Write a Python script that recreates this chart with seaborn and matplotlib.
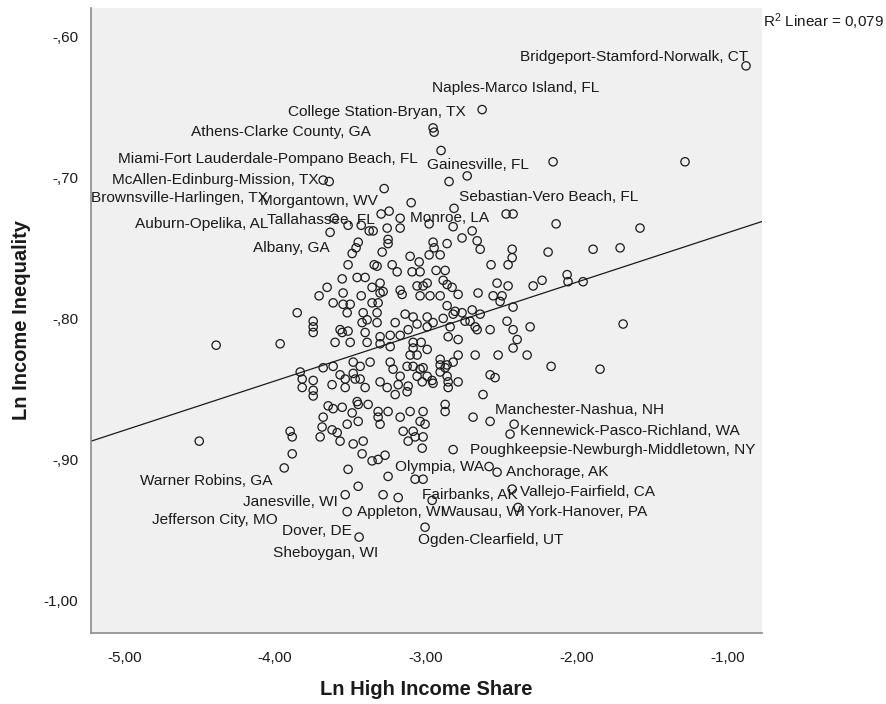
import matplotlib
matplotlib.use("Agg")
import matplotlib.pyplot as plt
import seaborn as sns
import numpy as np
import pandas as pd
from matplotlib.ticker import FuncFormatter, FixedLocator

# ---------------- data ----------------
x_share = [
    -2.901, -2.728, -2.848, -3.682, -3.642, -3.278, -3.099, -2.815, -2.470, -2.424,
    -3.298, -3.245, -3.172, -3.609, -3.517, -3.430, -3.377, -3.351, -3.258, -3.172,
    -3.636, -2.980, -2.821, -2.695, -2.762, -2.662, -2.642, -2.430, -2.430, -2.457,
    -2.570, -3.252, -3.252, -3.291, -3.450, -3.464, -3.490, -2.954, -2.861, -2.947,
    -2.980, -2.907, -3.517, -3.344, -3.325, -3.225, -3.192, -3.106, -3.046, -3.093,
    -3.040, -2.934, -2.874, -2.887, -3.556, -3.457, -3.404, -3.656, -3.709, -3.616,
    -3.550, -3.550, -3.503, -3.430, -3.358, -3.305, -3.305, -3.358, -3.318, -3.285,
    -3.172, -3.159, -3.060, -3.020, -2.993, -3.040, -2.974, -2.907, -2.861, -2.828,
    -2.788, -2.656, -2.530, -2.457, -2.556, -2.497, -2.510, -2.424, -2.291, -2.232,
    -3.854, -3.748, -3.748, -3.748, -3.523, -3.417, -3.391, -3.570, -3.517, -3.603,
    -3.503, -3.424, -3.325, -3.325, -3.305, -3.238, -3.205, -3.139, -3.119, -3.086,
    -3.060, -3.086, -2.993, -2.993, -2.954, -2.887, -2.821, -2.841, -2.762, -2.695,
    -2.742, -2.709, -2.642, -2.576, -2.464, -2.397, -2.311,
    -2.192, -1.894, -2.861, -2.808, -2.675, -2.854, -2.788, -2.424, -2.331, -2.523,
    -2.675, -2.788, -2.907, -2.861, -2.821, -2.861, -2.854, -2.788, -2.576, -2.543,
    -2.623, -2.172, -1.848, -1.695, -2.874, -2.874, -2.689, -2.576, -2.417, -2.444,
    -2.821,
    -3.556, -3.404, -3.391, -3.305, -3.238, -3.172, -3.033, -3.086, -2.993, -3.106,
    -3.060, -2.662, -2.424, -2.907, -3.834, -3.821, -3.821, -3.748, -3.748, -3.748,
    -3.682, -3.616, -3.570, -3.536, -3.623, -3.536, -3.483, -3.470, -3.437, -3.371,
    -3.404, -3.437, -3.483, -3.305, -3.258, -3.238, -3.219, -3.172, -3.185, -3.126,
    -3.086, -3.119, -3.126, -3.205, -3.040, -3.020, -3.060, -2.993, -3.026, -2.960,
    -2.954, -2.907, -2.874, -2.854, -3.649, -3.616, -3.556, -3.457, -3.450, -3.384,
    -3.318, -3.252, -3.490, -3.682, -3.689, -3.623, -3.589, -3.702, -3.570, -3.523,
    -3.450, -3.318, -3.305, -3.172, -3.106, -3.020, -3.040, -3.007, -3.152, -3.086,
    -3.073, -3.119, -3.020, -3.026, -3.483, -3.417, -3.424, -3.517, -3.358, -3.318,
    -3.272, -3.252, -3.073, -3.020, -3.450, -3.536, -3.285, -3.185, -3.523, -3.007,
    -2.583, -2.530, -3.887, -3.940, -3.901, -3.887, -3.967,
    -4.503, -3.444,
    -0.881, -2.629, -2.954, -2.947, -2.159, -2.139, -1.715, -1.583, -1.285,
    -2.066, -2.060, -1.960, -2.430, -2.391, -2.960, -4.391,
]
y_ineq = [
    -0.681, -0.699, -0.703, -0.702, -0.703, -0.708, -0.718, -0.722, -0.726, -0.726,
    -0.726, -0.724, -0.729, -0.729, -0.734, -0.734, -0.738, -0.738, -0.736, -0.736,
    -0.739, -0.733, -0.735, -0.738, -0.743, -0.745, -0.751, -0.751, -0.757, -0.762,
    -0.762, -0.744, -0.747, -0.753, -0.746, -0.750, -0.754, -0.746, -0.747, -0.750,
    -0.755, -0.755, -0.762, -0.762, -0.763, -0.762, -0.767, -0.756, -0.760, -0.767,
    -0.767, -0.766, -0.766, -0.773, -0.772, -0.771, -0.771, -0.778, -0.784, -0.789,
    -0.782, -0.790, -0.790, -0.784, -0.778, -0.775, -0.782, -0.789, -0.789, -0.781,
    -0.780, -0.783, -0.777, -0.777, -0.775, -0.784, -0.784, -0.784, -0.776, -0.778,
    -0.783, -0.782, -0.775, -0.777, -0.784, -0.784, -0.788, -0.792, -0.777, -0.773,
    -0.796, -0.802, -0.806, -0.810, -0.796, -0.796, -0.801, -0.808, -0.809, -0.817,
    -0.817, -0.803, -0.803, -0.796, -0.813, -0.820, -0.803, -0.797, -0.808, -0.799,
    -0.804, -0.817, -0.799, -0.806, -0.803, -0.800, -0.797, -0.806, -0.796, -0.794,
    -0.802, -0.802, -0.797, -0.808, -0.802, -0.815, -0.806,
    -0.753, -0.751, -0.791, -0.795, -0.806, -0.813, -0.815, -0.821, -0.826, -0.826,
    -0.826, -0.826, -0.829, -0.833, -0.831, -0.841, -0.845, -0.845, -0.840, -0.842,
    -0.854, -0.834, -0.836, -0.804, -0.861, -0.866, -0.870, -0.873, -0.875, -0.882,
    -0.893,
    -0.810, -0.810, -0.817, -0.818, -0.812, -0.812, -0.817, -0.821, -0.822, -0.826,
    -0.826, -0.808, -0.808, -0.833, -0.838, -0.843, -0.849, -0.844, -0.851, -0.855,
    -0.835, -0.834, -0.840, -0.843, -0.847, -0.849, -0.839, -0.843, -0.843, -0.831,
    -0.849, -0.834, -0.831, -0.845, -0.849, -0.831, -0.836, -0.841, -0.847, -0.834,
    -0.834, -0.848, -0.852, -0.854, -0.836, -0.835, -0.841, -0.841, -0.845, -0.844,
    -0.846, -0.838, -0.835, -0.849, -0.862, -0.864, -0.863, -0.859, -0.861, -0.861,
    -0.866, -0.866, -0.867, -0.870, -0.877, -0.879, -0.881, -0.884, -0.887, -0.875,
    -0.873, -0.870, -0.875, -0.870, -0.866, -0.866, -0.873, -0.875, -0.880, -0.880,
    -0.884, -0.887, -0.884, -0.892, -0.889, -0.887, -0.896, -0.907, -0.901, -0.900,
    -0.897, -0.912, -0.914, -0.914, -0.919, -0.925, -0.925, -0.927, -0.937, -0.948,
    -0.905, -0.909, -0.896, -0.906, -0.880, -0.884, -0.818,
    -0.887, -0.955,
    -0.621, -0.652, -0.665, -0.668, -0.689, -0.733, -0.750, -0.736, -0.689,
    -0.769, -0.774, -0.774, -0.921, -0.934, -0.929, -0.819,
]

label_names = [
    "Bridgeport-Stamford-Norwalk, CT", "Naples-Marco Island, FL",
    "College Station-Bryan, TX", "Athens-Clarke County, GA",
    "Miami-Fort Lauderdale-Pompano Beach, FL", "Gainesville, FL",
    "McAllen-Edinburg-Mission, TX", "Brownsville-Harlingen, TX",
    "Morgantown, WV", "Sebastian-Vero Beach, FL", "Tallahassee, FL",
    "Monroe, LA", "Auburn-Opelika, AL", "Albany, GA",
    "Manchester-Nashua, NH", "Kennewick-Pasco-Richland, WA",
    "Poughkeepsie-Newburgh-Middletown, NY", "Olympia, WA", "Anchorage, AK",
    "Vallejo-Fairfield, CA", "Fairbanks, AK", "York-Hanover, PA",
    "Appleton, WI", "Wausau, WI", "Ogden-Clearfield, UT", "Sheboygan, WI",
    "Dover, DE", "Jefferson City, MO", "Janesville, WI", "Warner Robins, GA",
]
# text anchor positions in data units, with horizontal alignment
label_x = [-0.868, -2.960, -3.914, -4.556, -3.053, -2.993, -3.715, -5.219,
           -3.318, -2.781, -3.338, -3.106, -4.046, -3.636, -2.543, -2.377,
           -2.709, -3.205, -2.470, -2.377, -3.026, -2.331, -3.457, -2.344,
           -3.053, -4.013, -3.954, -4.815, -3.583, -4.894]
label_y = [-0.615, -0.637, -0.654, -0.668, -0.687, -0.691, -0.702, -0.715,
           -0.717, -0.714, -0.730, -0.729, -0.733, -0.750, -0.865, -0.880,
           -0.893, -0.905, -0.909, -0.923, -0.925, -0.937, -0.937, -0.937,
           -0.957, -0.966, -0.951, -0.943, -0.930, -0.915]
label_ha = ["right", "left", "left", "left", "right", "left", "right", "left",
            "right", "left", "right", "left", "right", "right", "left", "left",
            "left", "left", "left", "left", "left", "left", "left", "right",
            "left", "left", "left", "left", "right", "left"]

x_ticks = [-5.0, -4.0, -3.0, -2.0, -1.0]
y_ticks = [-1.0, -0.9, -0.8, -0.7, -0.6]
x_title = "Ln High Income Share"
y_title = "Ln Income Inequality"
r2_text = "R$^2$ Linear = 0,079"

df = pd.DataFrame({"share": x_share, "ineq": y_ineq})

# ---------------- figure ----------------
sns.set_style("white")
plt.rcParams["font.family"] = ["Liberation Sans", "DejaVu Sans"]
plt.rcParams["mathtext.default"] = "regular"

W, H = 886, 704
fig = plt.figure(figsize=(W / 100, H / 100), dpi=100)
fig.patch.set_facecolor("white")
ax = fig.add_axes([91 / W, 1 - 633 / H, (762 - 91) / W, (633 - 8) / H])
ax.set_facecolor("#f0f0f0")

XLIM = (-5.22, -0.775)
YLIM = (-1.023, -0.580)
ax.set_xlim(*XLIM)
ax.set_ylim(*YLIM)

sns.scatterplot(data=df, x="share", y="ineq", ax=ax, marker="o",
                facecolors="none", edgecolor="#1a1a1a", linewidth=0.9,
                s=36, legend=False, zorder=3)
sns.regplot(data=df, x="share", y="ineq", ax=ax, scatter=False, ci=None,
            truncate=False, color="#1a1a1a", line_kws={"linewidth": 0.9})
ax.set_xlim(*XLIM)
ax.set_ylim(*YLIM)

for name, tx, ty, ha in zip(label_names, label_x, label_y, label_ha):
    ax.text(tx, ty, name, ha=ha, va="center", fontsize=11.1, color="#1a1a1a",
            zorder=4)


def fmt(v, pos):
    s = f"{v:.2f}".replace(".", ",")
    if s.startswith("-0,"):
        s = "-," + s[3:]
    return s


ax.xaxis.set_major_locator(FixedLocator(x_ticks))
ax.yaxis.set_major_locator(FixedLocator(y_ticks))
ax.xaxis.set_major_formatter(FuncFormatter(fmt))
ax.yaxis.set_major_formatter(FuncFormatter(fmt))
ax.tick_params(axis="both", direction="out", length=7, width=1.0,
               color="#333333", labelsize=11, labelcolor="#1a1a1a")
ax.tick_params(axis="x", pad=6)
ax.tick_params(axis="y", pad=2)

for side in ["top", "right"]:
    ax.spines[side].set_visible(False)
for side in ["left", "bottom"]:
    ax.spines[side].set_color("#8c8c8c")
    ax.spines[side].set_linewidth(1.2)

ax.set_xlabel(x_title, fontsize=14.5, fontweight="bold", color="#1a1a1a",
              labelpad=11)
ax.set_ylabel(y_title, fontsize=14.5, fontweight="bold", color="#1a1a1a",
              labelpad=9)

fig.text(763 / W, 1 - 22 / H, r2_text, ha="left", va="center", fontsize=11,
         color="#1a1a1a")

fig.savefig("out.png", dpi=100, facecolor="white")
